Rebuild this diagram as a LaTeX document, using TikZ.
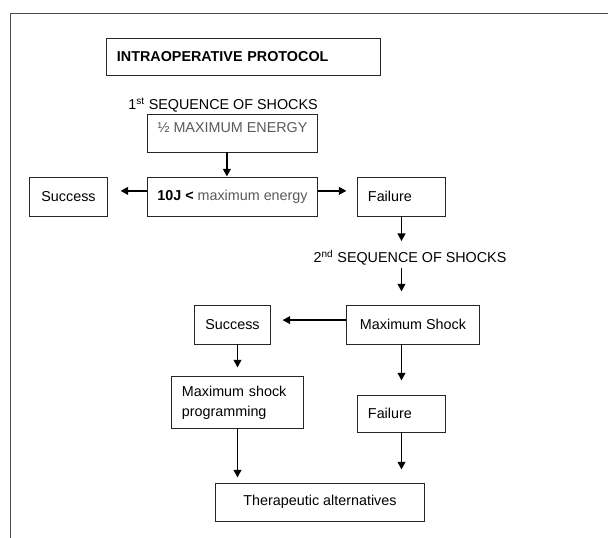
\documentclass[tikz,border=0pt]{standalone}
\usepackage{fontspec}
\setmainfont{Liberation Sans}
\usetikzlibrary{arrows.meta}
\definecolor{softgray}{gray}{0.35}
\tikzset{
	flowbox/.style={draw=black!85, line width=0.7pt, rectangle, inner xsep=0.25cm, inner ysep=0pt, font=\fontsize{10.2pt}{14pt}\selectfont},
	steplabel/.style={inner sep=0pt, font=\fontsize{10.2pt}{14pt}\selectfont},
	flowarrow/.style={-{Triangle[length=5.5pt,width=5.5pt]}, line width=1.3pt}
}
\begin{document}
\begin{tikzpicture}[x=0.025cm, y=-0.025cm]
	
	\useasboundingbox (0,0) rectangle (608,538);
	
	\draw [black!70, line width=0.7pt] (10,538) -- (10,13) -- (608,13);
	
	\node [flowbox, text width=6.325cm, align=left, minimum height=0.925cm] (protocol) at (243.5,56.5) {\textbf{INTRAOPERATIVE PROTOCOL}};
	
	\node [steplabel] (firstseq) at (223,105) {1\textsuperscript{st} SEQUENCE OF SHOCKS};
	
	\node [flowbox, minimum width=4.075cm, minimum height=0.95cm, text height=0.3cm, text depth=0.3cm, text=softgray] (halfenergy) at (232.5,133) {½ MAXIMUM ENERGY};
	
	\node [flowbox, minimum width=4.075cm, minimum height=0.975cm] (tenjoule) at (232.5,196.5) {\textbf{10J <} \textcolor{softgray}{maximum energy}};
	
	\node [flowbox, minimum width=1.925cm, minimum height=0.975cm] (successA) at (68.5,196.5) {Success};
	
	\node [flowbox, text width=1.675cm, align=left, minimum height=0.975cm] (failureA) at (401.5,196.5) {Failure};
	
	\node [steplabel] (secondseq) at (410,258) {2\textsuperscript{nd} SEQUENCE OF SHOCKS};
	
	\node [flowbox, minimum width=3.3cm, minimum height=0.975cm] (maxshock) at (413,324.5) {Maximum Shock};
	
	\node [flowbox, minimum width=1.875cm, minimum height=0.975cm] (successB) at (232.5,324.5) {Success};
	
	\node [flowbox, text width=2.775cm, align=left, minimum height=1.275cm] (programming) at (237.5,402.5) {Maximum shock\\programming};
	
	\node [flowbox, text width=1.675cm, align=left, minimum height=0.925cm] (failureB) at (401.5,413.5) {Failure};
	
	\node [flowbox, minimum width=5.2cm, minimum height=0.95cm] (alternatives) at (320,502) {Therapeutic alternatives};
	
	
	\draw [flowarrow] ([xshift=-0.14cm]halfenergy.south) -- ([xshift=-0.14cm]tenjoule.north);
	
	\draw [flowarrow, shorten >=0.325cm] ([yshift=0.14cm]tenjoule.west) -- ([yshift=0.14cm]tenjoule.west -| successA.east);
	
	\draw [flowarrow, shorten >=0.275cm] ([yshift=0.14cm]tenjoule.east) -- ([yshift=0.14cm]tenjoule.east -| failureA.west);
	
	\draw [flowarrow, shorten >=0.225cm] (failureA.south) -- (failureA.south |- secondseq.north);
	
	\draw [flowarrow, shorten <=0.05cm, shorten >=0.325cm] (failureA.south |- secondseq.south) -- (failureA.south |- maxshock.north);
	
	\draw [flowarrow, shorten >=0.3cm] ([yshift=0.11cm]maxshock.west) -- ([yshift=0.11cm]maxshock.west -| successB.east);
	
	\draw [flowarrow, shorten >=0.225cm] (programming.north |- successB.south) -- (programming.north);
	
	\draw [flowarrow, shorten >=0.35cm] (failureB.north |- maxshock.south) -- (failureB.north);
	
	\draw [flowarrow, shorten >=0.325cm] (failureB.south) -- (failureB.south |- alternatives.north);
	
	\draw [flowarrow, shorten >=0.125cm] (programming.south) -- (programming.south |- alternatives.north);
	
\end{tikzpicture}
\end{document}
